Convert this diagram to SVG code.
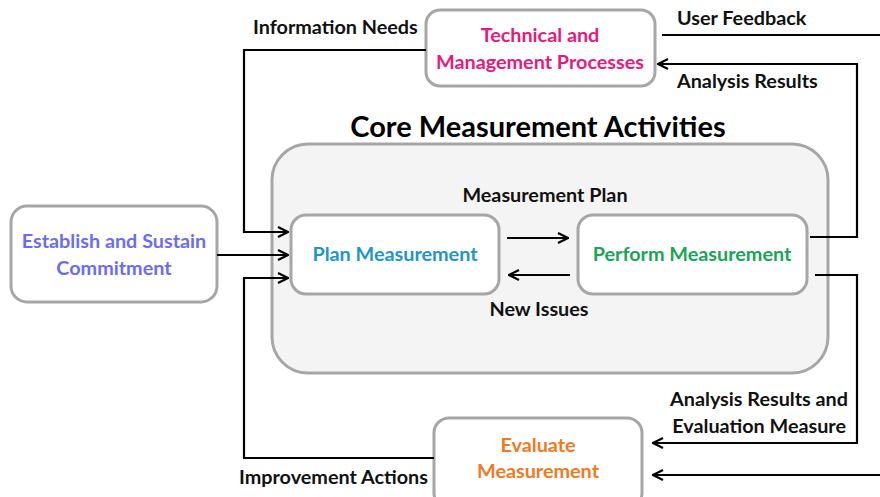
<svg xmlns="http://www.w3.org/2000/svg" width="880" height="497" viewBox="0 0 880 497">
<style>
.box{fill:#fff;stroke:#a6a6a6;stroke-width:3}
.lbl{font-family:Lato,"Open Sans","Liberation Sans",sans-serif;font-weight:bold;font-size:19.8px;fill:#111}
.nt{font-family:Lato,"Open Sans","Liberation Sans",sans-serif;font-weight:bold;font-size:19.8px;text-anchor:middle}
.ln{fill:none;stroke:#000;stroke-width:2.2}
</style>
<defs>
<marker id="ah" viewBox="0 0 12 12" refX="11" refY="6" markerWidth="12" markerHeight="12" markerUnits="userSpaceOnUse" orient="auto">
<path d="M1,1 L11,6 L1,11" fill="none" stroke="#000" stroke-width="2.2"/>
</marker>
</defs>
<rect width="880" height="497" fill="#fff"/>
<g id="core">
<rect x="272" y="144" width="556" height="229" rx="36" fill="#f4f4f4" stroke="#a6a6a6" stroke-width="3"/>
<text x="538" y="137" text-anchor="middle" style="font-family:Lato,'Open Sans','Liberation Sans',sans-serif;font-weight:bold;font-size:29px;fill:#000">Core Measurement Activities</text>
</g>
<g id="tech">
<rect class="box" x="426" y="10" width="229" height="76" rx="14"/>
<text class="nt" x="540" y="42" fill="#e8197a">Technical and</text>
<text class="nt" x="540" y="69" fill="#e8197a">Management Processes</text>
</g>
<g id="establish">
<rect class="box" x="11" y="206" width="206" height="96" rx="16"/>
<text class="nt" x="114" y="248" fill="#6b6cf2">Establish and Sustain</text>
<text class="nt" x="114" y="275" fill="#6b6cf2">Commitment</text>
</g>
<g id="plan">
<rect class="box" x="291" y="215" width="208" height="79" rx="15"/>
<text class="nt" x="395" y="261" fill="#1f95c9">Plan Measurement</text>
</g>
<g id="perform">
<rect class="box" x="578" y="215" width="229" height="79" rx="15"/>
<text class="nt" x="692" y="261" fill="#1aa457">Perform Measurement</text>
</g>
<g id="evaluate">
<rect class="box" x="434" y="418" width="208" height="90" rx="15"/>
<text class="nt" x="538" y="452" fill="#f07a1e">Evaluate</text>
<text class="nt" x="538" y="478" fill="#f07a1e">Measurement</text>
</g>
<g id="connectors">
<path class="ln" d="M426,50 H244 V232 H288" marker-end="url(#ah)"/>
<path class="ln" d="M217,255 H288" marker-end="url(#ah)"/>
<path class="ln" d="M434,458 H244 V278 H288" marker-end="url(#ah)"/>
<path class="ln" d="M507,238 H568" marker-end="url(#ah)"/>
<path class="ln" d="M570,275 H509" marker-end="url(#ah)"/>
<path class="ln" d="M662,35 H880"/>
<path class="ln" d="M810,237 H857 V64 H658" marker-end="url(#ah)"/>
<path class="ln" d="M815,275 H857 V443 H653" marker-end="url(#ah)"/>
<path class="ln" d="M880,475 H653" marker-end="url(#ah)"/>
</g>
<g id="labels">
<text class="lbl" x="253" y="34">Information Needs</text>
<text class="lbl" x="677" y="25">User Feedback</text>
<text class="lbl" x="677" y="88">Analysis Results</text>
<text class="lbl" x="545" y="202" text-anchor="middle">Measurement Plan</text>
<text class="lbl" x="539" y="316" text-anchor="middle">New Issues</text>
<text class="lbl" x="848" y="406" text-anchor="end">Analysis Results and</text>
<text class="lbl" x="846" y="433" text-anchor="end">Evaluation Measure</text>
<text class="lbl" x="239" y="484">Improvement Actions</text>
</g>
</svg>
